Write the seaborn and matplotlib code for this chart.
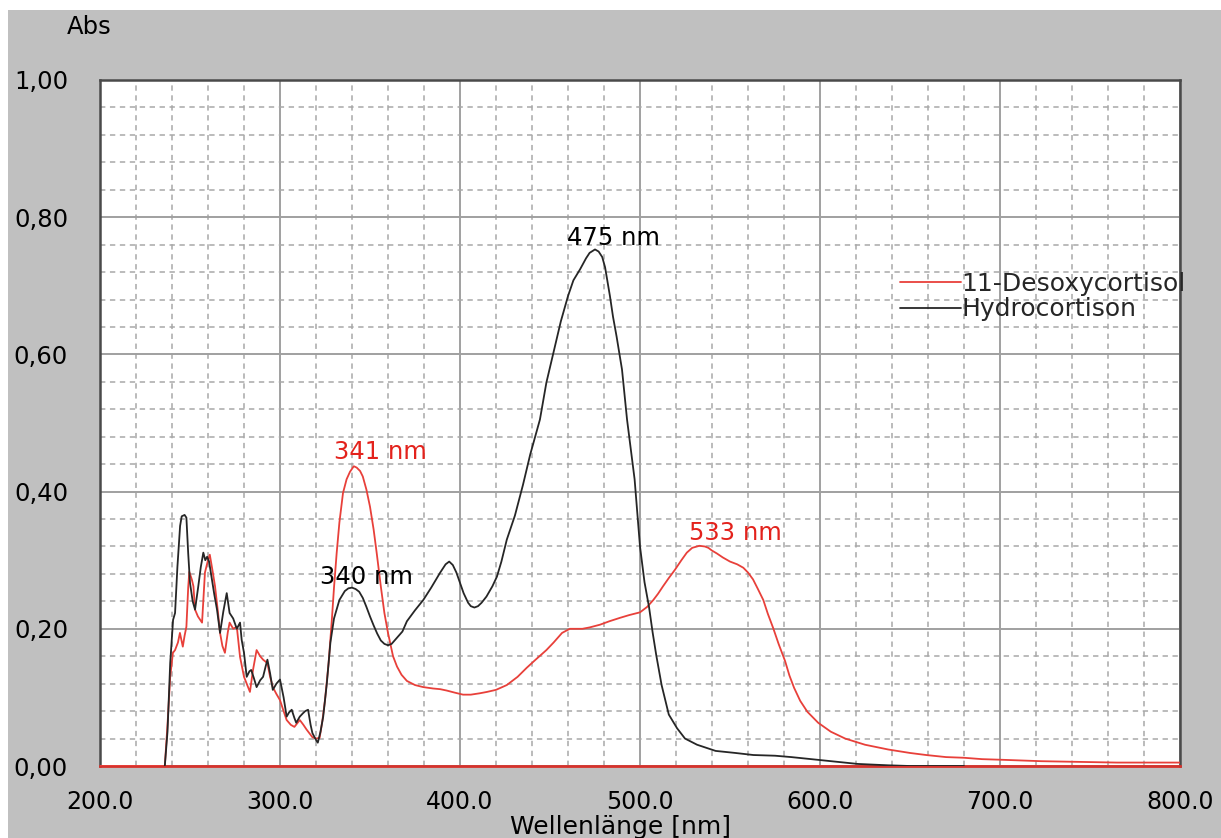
import matplotlib
matplotlib.use("Agg")
import matplotlib.pyplot as plt
from matplotlib.patches import Rectangle
from matplotlib.ticker import MultipleLocator, FixedLocator, FixedFormatter
import pandas as pd
import seaborn as sns

# 11-Desoxycortisol spectrum (wavelength in nm, absorbance)
desoxy_nm = [200, 236, 237.5, 239, 240.5, 241.7, 243.3, 244.4, 246, 247, 248, 249, 249.6,
             251, 251.9, 252.8, 254.4, 256.7, 258.3, 260, 261, 262.5, 263.9, 265.5, 266.7,
             268, 269.4, 271, 272, 274, 276, 277.8, 280, 283.3, 285, 287, 289, 290.6, 293,
             294.5, 296, 298, 300, 302, 303.7, 306, 308, 311, 313, 314.8, 318, 320, 322,
             323.5, 325, 327, 328.8, 330, 331.5, 333, 335, 337, 338.9, 341, 342.6, 344.5,
             346, 348, 350, 352, 353.7, 356, 358, 360, 362.8, 365, 367.5, 370.5, 375, 379.6,
             385, 389, 392.6, 397, 401.7, 406, 411, 415, 420, 426, 432, 437, 442, 448, 452,
             456.7, 461, 465, 468, 472, 477.8, 483, 488.9, 494, 500, 504, 507.4, 510, 512.8,
             516, 519.4, 523, 526, 529, 533, 536, 538, 540, 542.6, 546, 550, 554, 557.4, 560,
             562.8, 565.5, 568.5, 571, 574, 577, 580.6, 583, 585.6, 589, 593, 599, 606, 614,
             625, 638, 650, 659, 670, 680, 690, 701.7, 723, 744, 765, 800]
desoxy_abs = [0.0, 0.0, 0.06, 0.13, 0.165, 0.169, 0.18, 0.194, 0.174, 0.19, 0.203, 0.26, 0.283,
              0.272, 0.262, 0.228, 0.218, 0.209, 0.282, 0.300, 0.308, 0.285, 0.262, 0.225, 0.194,
              0.175, 0.165, 0.195, 0.209, 0.20, 0.203, 0.159, 0.13, 0.108, 0.14, 0.169, 0.16,
              0.155, 0.15, 0.13, 0.115, 0.105, 0.096, 0.08, 0.067, 0.060, 0.057, 0.067, 0.060,
              0.053, 0.042, 0.040, 0.041, 0.065, 0.096, 0.15, 0.213, 0.26, 0.311, 0.355, 0.398,
              0.418, 0.429, 0.437, 0.435, 0.430, 0.422, 0.403, 0.378, 0.345, 0.311, 0.262, 0.223,
              0.194, 0.160, 0.145, 0.133, 0.124, 0.118, 0.115, 0.113, 0.112, 0.110, 0.107, 0.104,
              0.104, 0.106, 0.108, 0.111, 0.118, 0.130, 0.143, 0.155, 0.169, 0.180, 0.194, 0.200,
              0.200, 0.200, 0.202, 0.206, 0.211, 0.216, 0.220, 0.224, 0.232, 0.242, 0.251, 0.262,
              0.274, 0.286, 0.300, 0.311, 0.318, 0.321, 0.320, 0.318, 0.314, 0.310, 0.304, 0.298,
              0.294, 0.289, 0.282, 0.272, 0.258, 0.242, 0.222, 0.201, 0.178, 0.153, 0.132, 0.114,
              0.095, 0.079, 0.063, 0.050, 0.040, 0.031, 0.024, 0.019, 0.016, 0.013, 0.012, 0.010,
              0.009, 0.007, 0.006, 0.005, 0.005]

# Hydrocortison spectrum (wavelength in nm, absorbance)
hydro_nm = [236, 237.5, 239, 240.6, 241.7, 243, 244.5, 245.4, 247, 248, 249, 250, 251.5, 252.8,
            254.5, 256, 257.4, 258.5, 259.5, 260.6, 262, 263.5, 265, 266.7, 268.5, 270.4, 272,
            274, 276, 277.8, 278.7, 280, 281.5, 283, 284, 285.5, 287, 289, 290.6, 292, 293,
            294.5, 296, 298, 300, 302, 303.7, 305, 306.5, 308, 309, 311, 312.8, 314, 315.6, 317,
            318, 320, 321, 322.5, 324, 326, 328, 330, 333, 336, 338, 340, 342, 344, 346, 348,
            350, 352, 354, 356, 358, 360, 362, 364, 366, 368, 370.5, 375, 379.6, 384, 389, 392,
            394, 396, 398, 400, 402, 404.5, 406, 408, 410, 412, 414.7, 418, 420.5, 423, 426,
            430.5, 435, 439, 444.4, 448, 452.8, 456, 460, 463, 466.7, 470, 472, 475, 477, 479,
            480.6, 483.3, 485, 487, 490, 492.8, 495, 497, 500, 502.5, 505, 507, 509, 512, 516,
            520.6, 525, 531.7, 542, 553, 563, 575, 584, 599, 610, 621, 638, 650, 680]
hydro_abs = [0.0, 0.05, 0.15, 0.213, 0.223, 0.29, 0.35, 0.364, 0.366, 0.362, 0.31, 0.267, 0.24,
             0.228, 0.26, 0.29, 0.311, 0.30, 0.305, 0.298, 0.275, 0.25, 0.228, 0.194, 0.225,
             0.252, 0.223, 0.215, 0.20, 0.209, 0.184, 0.165, 0.130, 0.138, 0.140, 0.128, 0.115,
             0.125, 0.130, 0.145, 0.155, 0.135, 0.111, 0.12, 0.126, 0.10, 0.072, 0.078, 0.082,
             0.070, 0.063, 0.072, 0.077, 0.080, 0.082, 0.060, 0.048, 0.038, 0.034, 0.05, 0.072,
             0.12, 0.18, 0.215, 0.242, 0.255, 0.259, 0.260, 0.258, 0.254, 0.245, 0.232, 0.218,
             0.205, 0.193, 0.183, 0.178, 0.176, 0.178, 0.184, 0.190, 0.196, 0.211, 0.227, 0.242,
             0.26, 0.282, 0.294, 0.298, 0.293, 0.282, 0.267, 0.252, 0.238, 0.233, 0.231, 0.233,
             0.238, 0.247, 0.262, 0.276, 0.298, 0.330, 0.365, 0.41, 0.454, 0.505, 0.559, 0.612,
             0.648, 0.685, 0.708, 0.724, 0.740, 0.748, 0.753, 0.750, 0.742, 0.727, 0.685, 0.655,
             0.626, 0.578, 0.505, 0.46, 0.418, 0.32, 0.268, 0.232, 0.195, 0.162, 0.118, 0.075,
             0.055, 0.04, 0.031, 0.022, 0.019, 0.016, 0.015, 0.013, 0.009, 0.006, 0.003, 0.001,
             0.0, 0.0]

series_names = ["11-Desoxycortisol", "Hydrocortison"]
series_colors = ["#e8403a", "#262626"]

# Peak annotations: (wavelength label, series index, text position in data units)
peak_nm = [341, 340, 475, 533]
peak_series = [0, 1, 1, 0]
peak_text_x = [356, 348, 485, 553]
peak_text_y = [0.457, 0.276, 0.769, 0.340]

x_ticks = [200, 300, 400, 500, 600, 700, 800]
x_tick_labels = ["200.0", "300.0", "400.0", "500.0", "600.0", "700.0", "800.0"]
y_ticks = [0.0, 0.2, 0.4, 0.6, 0.8, 1.0]
y_tick_labels = ["0,00", "0,20", "0,40", "0,60", "0,80", "1,00"]

sns.set_style("white")
plt.rcParams["font.family"] = ["DejaVu Sans"]

W, H = 1221, 838
fig = plt.figure(figsize=(W / 100, H / 100), dpi=100, facecolor="white")
# grey panel behind everything, leaving a thin white strip at the top and left
fig.patches.append(Rectangle((8 / W, 0), 1, (H - 10) / H, transform=fig.transFigure,
                             facecolor="#c0c0c0", edgecolor="none", zorder=-10))
ax = fig.add_axes([100 / W, 72 / H, 1080 / W, 686 / H])
ax.set_zorder(1)
ax.set_facecolor("white")

frames = [
    pd.DataFrame({"nm": desoxy_nm, "abs": desoxy_abs}),
    pd.DataFrame({"nm": hydro_nm, "abs": hydro_abs}),
]
for df, name, col in zip(frames, series_names, series_colors):
    sns.lineplot(data=df, x="nm", y="abs", ax=ax, color=col, linewidth=1.3,
                 label=name, sort=False, zorder=3)

ax.set_xlim(200, 800)
ax.set_ylim(0, 1.0)

ax.xaxis.set_major_locator(FixedLocator(x_ticks))
ax.xaxis.set_major_formatter(FixedFormatter(x_tick_labels))
ax.yaxis.set_major_locator(FixedLocator(y_ticks))
ax.yaxis.set_major_formatter(FixedFormatter(y_tick_labels))
ax.xaxis.set_minor_locator(MultipleLocator(20))
ax.yaxis.set_minor_locator(MultipleLocator(0.04))

ax.grid(which="minor", color="#a8a8a8", linestyle=(0, (3.5, 3)), linewidth=1.1, zorder=1)
ax.grid(which="major", color="#a0a0a0", linestyle="-", linewidth=1.4, zorder=1)
ax.set_axisbelow(True)

ax.tick_params(axis="both", which="both", length=0)
ax.tick_params(axis="x", labelsize=17, pad=17, colors="black")
ax.tick_params(axis="y", labelsize=17.5, pad=23, colors="black")

for side in ["left", "top", "right"]:
    ax.spines[side].set_color("#4a4a4a")
    ax.spines[side].set_linewidth(1.8)
ax.spines["bottom"].set_color("#d6322c")
ax.spines["bottom"].set_linewidth(2.0)

ax.set_xlabel("")
ax.set_ylabel("")

fig.text(89 / W, 1 - 27 / H, "Abs", fontsize=17.5, ha="center", va="center", color="black")
fig.text(621 / W, 1 - 827 / H, "Wellenlänge [nm]", fontsize=18, ha="center", va="center",
         color="black")

for nm, si, tx, ty in zip(peak_nm, peak_series, peak_text_x, peak_text_y):
    color = "#e3221c" if si == 0 else "black"
    ax.text(tx, ty, f"{nm} nm", fontsize=17.5, ha="center", va="center", color=color, zorder=4)

ax.legend(loc="upper left", bbox_to_anchor=((900 - 100) / 1080, (766 - 272) / 686),
          frameon=False, fontsize=18, handlelength=2.45, handletextpad=0.0,
          labelspacing=0.05, borderpad=0, borderaxespad=0)

fig.savefig("out.png", dpi=100, facecolor=fig.get_facecolor())
